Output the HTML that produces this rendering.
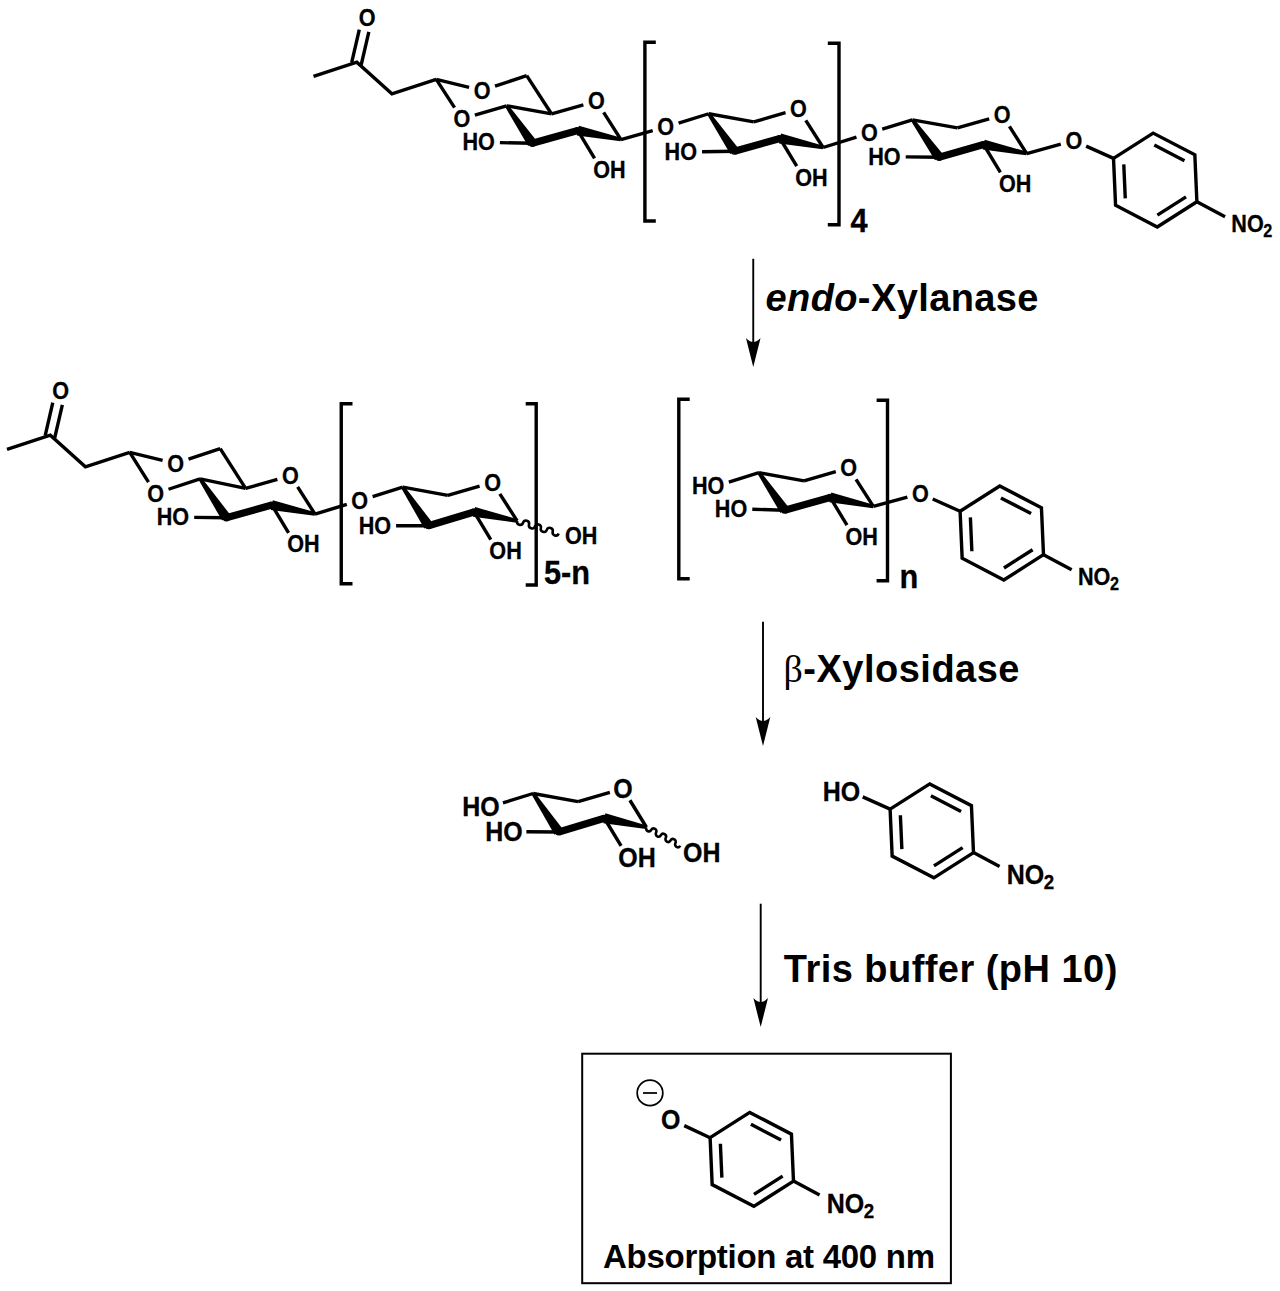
<!DOCTYPE html>
<html><head><meta charset="utf-8"><style>
html,body{margin:0;padding:0;background:#fff;width:1280px;height:1291px;overflow:hidden}
svg{display:block}
text{font-family:"Liberation Sans",sans-serif}
</style></head><body>
<svg width="1280" height="1291" viewBox="0 0 1280 1291" stroke="#000" fill="#000" stroke-linecap="butt" stroke-linejoin="miter" font-family="Liberation Sans, sans-serif" font-weight="bold">
<rect width="1280" height="1291" fill="#fff" stroke="none"/>
<polyline points="313.5,76.3 356.8,62.2 391.9,93.75 436.25,79.4" fill="none" stroke-width="3.4"/>
<line x1="361.08" y1="65.44" x2="368.84" y2="31.76" stroke-width="3.4"/>
<line x1="351.67" y1="62.66" x2="359.29" y2="29.56" stroke-width="3.4"/>
<text transform="translate(367.1,25.55) scale(0.96,1.035)" font-size="22.5" text-anchor="middle" stroke-width="0.3">O</text>
<line x1="436.25" y1="79.4" x2="469.08" y2="87.33" stroke-width="3.4"/>
<line x1="495" y1="86.21" x2="526.7" y2="75.6" stroke-width="3.4"/>
<text transform="translate(482.2,98.56) scale(0.96,1.035)" font-size="22.5" text-anchor="middle" stroke-width="0.3">O</text>
<text transform="translate(461.9,127.06) scale(0.96,1.035)" font-size="22.5" text-anchor="middle" stroke-width="0.3">O</text>
<line x1="506.6" y1="105.8" x2="551.6" y2="113.95" stroke-width="3.4"/>
<line x1="551.6" y1="113.95" x2="583.38" y2="104.79" stroke-width="3.4"/>
<line x1="603.62" y1="112.43" x2="620.95" y2="139.55" stroke-width="3.4"/>
<polygon stroke="none" points="505.11,106.82 528.12,146.12 536.38,140.48 508.09,104.78"/>
<polygon stroke="none" points="533.22,146.77 578.82,134.02 576.88,127.08 531.28,139.83"/>
<polygon stroke="none" points="621.32,137.79 578.87,125.66 576.83,135.44 620.58,141.31"/>
<circle cx="577.85" cy="130.55" r="3.6" stroke="none"/>
<circle cx="532.25" cy="143.3" r="3.6" stroke="none"/>
<line x1="577.85" y1="130.55" x2="594.58" y2="158.29" stroke-width="3.4"/>
<line x1="532.25" y1="143.3" x2="499.9" y2="142.63" stroke-width="3.4"/>
<text transform="translate(596.35,109.1) scale(0.96,1.035)" font-size="22.5" text-anchor="middle" stroke-width="0.3">O</text>
<text transform="translate(593.15,177.91) scale(0.96,1.035)" font-size="22.5" text-anchor="start" stroke-width="0.3">OH</text>
<text transform="translate(494.8,150.41) scale(0.96,1.035)" font-size="22.5" text-anchor="end" stroke-width="0.3">HO</text>
<line x1="526.7" y1="75.6" x2="551.6" y2="113.95" stroke-width="3.4"/>
<line x1="436.25" y1="79.4" x2="454.56" y2="107.67" stroke-width="3.4"/>
<line x1="474.85" y1="115.18" x2="506.6" y2="105.8" stroke-width="3.4"/>
<line x1="708.75" y1="113.75" x2="753.75" y2="121.9" stroke-width="3.4"/>
<line x1="753.75" y1="121.9" x2="785.53" y2="112.74" stroke-width="3.4"/>
<line x1="805.77" y1="120.38" x2="823.1" y2="147.5" stroke-width="3.4"/>
<polygon stroke="none" points="707.26,114.77 730.27,154.07 738.53,148.43 710.24,112.73"/>
<polygon stroke="none" points="735.37,154.72 780.97,141.97 779.03,135.03 733.43,147.78"/>
<polygon stroke="none" points="823.47,145.74 781.02,133.61 778.98,143.39 822.73,149.26"/>
<circle cx="780" cy="138.5" r="3.6" stroke="none"/>
<circle cx="734.4" cy="151.25" r="3.6" stroke="none"/>
<line x1="780" y1="138.5" x2="796.73" y2="166.24" stroke-width="3.4"/>
<line x1="734.4" y1="151.25" x2="702.05" y2="151.74" stroke-width="3.4"/>
<text transform="translate(798.5,117.06) scale(0.96,1.035)" font-size="22.5" text-anchor="middle" stroke-width="0.3">O</text>
<text transform="translate(795.3,185.86) scale(0.96,1.035)" font-size="22.5" text-anchor="start" stroke-width="0.3">OH</text>
<text transform="translate(696.95,160) scale(0.96,1.035)" font-size="22.5" text-anchor="end" stroke-width="0.3">HO</text>
<line x1="620.95" y1="139.55" x2="652.69" y2="130.72" stroke-width="3.4"/>
<line x1="678.59" y1="123.1" x2="708.75" y2="113.75" stroke-width="3.4"/>
<text transform="translate(665.7,135.16) scale(0.96,1.035)" font-size="22.5" text-anchor="middle" stroke-width="0.3">O</text>
<line x1="912.4" y1="119.8" x2="957.4" y2="127.95" stroke-width="3.4"/>
<line x1="957.4" y1="127.95" x2="989.18" y2="118.79" stroke-width="3.4"/>
<line x1="1009.42" y1="126.43" x2="1026.75" y2="153.55" stroke-width="3.4"/>
<polygon stroke="none" points="910.93,120.84 934.97,160.2 943.13,154.4 913.87,118.76"/>
<polygon stroke="none" points="940.04,160.76 984.64,148.01 982.66,141.09 938.06,153.84"/>
<polygon stroke="none" points="1027.12,151.79 984.67,139.66 982.63,149.44 1026.38,155.31"/>
<circle cx="983.65" cy="144.55" r="3.6" stroke="none"/>
<circle cx="939.05" cy="157.3" r="3.6" stroke="none"/>
<line x1="983.65" y1="144.55" x2="1000.38" y2="172.29" stroke-width="3.4"/>
<line x1="939.05" y1="157.3" x2="905.7" y2="156.84" stroke-width="3.4"/>
<text transform="translate(1002.15,123.1) scale(0.96,1.035)" font-size="22.5" text-anchor="middle" stroke-width="0.3">O</text>
<text transform="translate(998.95,191.91) scale(0.96,1.035)" font-size="22.5" text-anchor="start" stroke-width="0.3">OH</text>
<text transform="translate(900.6,164.71) scale(0.96,1.035)" font-size="22.5" text-anchor="end" stroke-width="0.3">HO</text>
<line x1="823.1" y1="147.5" x2="856.46" y2="137.15" stroke-width="3.4"/>
<line x1="882.24" y1="129.15" x2="912.4" y2="119.8" stroke-width="3.4"/>
<text transform="translate(869.35,141.21) scale(0.96,1.035)" font-size="22.5" text-anchor="middle" stroke-width="0.3">O</text>
<polygon points="1113.51,158.37 1153.15,133.11 1194.84,154.82 1196.89,201.77 1157.25,227.03 1115.56,205.32" fill="none" stroke-width="3.4"/>
<line x1="1123.78" y1="164.43" x2="1125.27" y2="198.39" stroke-width="3.4"/>
<line x1="1154.3" y1="144.99" x2="1184.46" y2="160.69" stroke-width="3.4"/>
<line x1="1186.03" y1="196.83" x2="1157.36" y2="215.1" stroke-width="3.4"/>
<line x1="1026.75" y1="153.55" x2="1060.78" y2="144.18" stroke-width="3.4"/>
<line x1="1086.12" y1="146.11" x2="1113.51" y2="158.37" stroke-width="3.4"/>
<text transform="translate(1073.8,148.66) scale(0.96,1.035)" font-size="22.5" text-anchor="middle" stroke-width="0.3">O</text>
<line x1="1196.89" y1="201.77" x2="1225.07" y2="216.78" stroke-width="3.4"/>
<text transform="translate(1231.3,231.98) scale(0.96,1.035)" font-size="22.5" text-anchor="start" stroke-width="0.3">N</text>
<text transform="translate(1246.89,231.98) scale(0.96,1.035)" font-size="22.5" text-anchor="start" stroke-width="0.3">O</text>
<text transform="translate(1263.33,236.98) scale(0.96,1.035)" font-size="16.875" text-anchor="start" stroke-width="0.3">2</text>
<polyline points="655.8,42.2 644.9,42.2 644.9,221 655.8,221" fill="none" stroke-width="3.4"/>
<polyline points="827.8,43.2 839,43.2 839,224.8 827.8,224.8" fill="none" stroke-width="3.4"/>
<text transform="translate(850.4,232.2) scale(0.96,1.035)" font-size="32" text-anchor="start" stroke-width="0.3">4</text>
<line x1="753.25" y1="258.75" x2="753.25" y2="343" stroke-width="1.9"/>
<path stroke="none" d="M753.25,367 L745.95,338 Q753.25,346 760.55,338 Z"/>
<text x="765.5" y="311.3" font-size="38" text-anchor="start" stroke="none" textLength="273" lengthAdjust="spacing"><tspan font-style="italic">endo</tspan>-Xylanase</text>
<polyline points="7,449.3 50.3,435.2 85.4,466.75 129.75,452.4" fill="none" stroke-width="3.4"/>
<line x1="54.58" y1="438.44" x2="62.34" y2="404.76" stroke-width="3.4"/>
<line x1="45.17" y1="435.66" x2="52.79" y2="402.56" stroke-width="3.4"/>
<text transform="translate(60.6,398.56) scale(0.96,1.035)" font-size="22.5" text-anchor="middle" stroke-width="0.3">O</text>
<line x1="129.75" y1="452.4" x2="162.58" y2="460.33" stroke-width="3.4"/>
<line x1="188.5" y1="459.21" x2="220.2" y2="448.6" stroke-width="3.4"/>
<text transform="translate(175.7,471.56) scale(0.96,1.035)" font-size="22.5" text-anchor="middle" stroke-width="0.3">O</text>
<text transform="translate(155.7,501.56) scale(0.96,1.035)" font-size="22.5" text-anchor="middle" stroke-width="0.3">O</text>
<line x1="200.1" y1="478.8" x2="245.6" y2="488.45" stroke-width="3.4"/>
<line x1="245.6" y1="488.45" x2="277.38" y2="479.29" stroke-width="3.4"/>
<line x1="297.62" y1="486.93" x2="314.95" y2="514.05" stroke-width="3.4"/>
<polygon stroke="none" points="198.6,479.8 222.1,520.58 230.4,515.02 201.6,477.8"/>
<polygon stroke="none" points="227.22,521.27 272.82,508.52 270.88,501.58 225.28,514.33"/>
<polygon stroke="none" points="315.32,512.29 272.87,500.16 270.83,509.94 314.58,515.81"/>
<circle cx="271.85" cy="505.05" r="3.6" stroke="none"/>
<circle cx="226.25" cy="517.8" r="3.6" stroke="none"/>
<line x1="271.85" y1="505.05" x2="288.58" y2="532.79" stroke-width="3.4"/>
<line x1="226.25" y1="517.8" x2="194.2" y2="517.38" stroke-width="3.4"/>
<text transform="translate(290.35,483.61) scale(0.96,1.035)" font-size="22.5" text-anchor="middle" stroke-width="0.3">O</text>
<text transform="translate(287.15,552.4) scale(0.96,1.035)" font-size="22.5" text-anchor="start" stroke-width="0.3">OH</text>
<text transform="translate(189.1,525.25) scale(0.96,1.035)" font-size="22.5" text-anchor="end" stroke-width="0.3">HO</text>
<line x1="220.2" y1="448.6" x2="245.6" y2="488.45" stroke-width="3.4"/>
<line x1="129.75" y1="452.4" x2="148.49" y2="482.08" stroke-width="3.4"/>
<line x1="168.52" y1="489.26" x2="200.1" y2="478.8" stroke-width="3.4"/>
<line x1="402.8" y1="487.2" x2="447.8" y2="495.35" stroke-width="3.4"/>
<line x1="447.8" y1="495.35" x2="479.58" y2="486.19" stroke-width="3.4"/>
<line x1="499.82" y1="493.83" x2="517.15" y2="520.95" stroke-width="3.4"/>
<polygon stroke="none" points="401.3,488.2 424.29,528.47 432.61,522.93 404.3,486.2"/>
<polygon stroke="none" points="429.49,529.15 475.09,515.4 473.01,508.5 427.41,522.25"/>
<polygon stroke="none" points="517.52,519.19 475.07,507.06 473.03,516.84 516.78,522.71"/>
<circle cx="474.05" cy="511.95" r="3.6" stroke="none"/>
<circle cx="428.45" cy="525.7" r="3.6" stroke="none"/>
<line x1="474.05" y1="511.95" x2="490.78" y2="539.69" stroke-width="3.4"/>
<line x1="428.45" y1="525.7" x2="396.1" y2="525.81" stroke-width="3.4"/>
<text transform="translate(492.55,490.5) scale(0.96,1.035)" font-size="22.5" text-anchor="middle" stroke-width="0.3">O</text>
<text transform="translate(489.35,559.3) scale(0.96,1.035)" font-size="22.5" text-anchor="start" stroke-width="0.3">OH</text>
<text transform="translate(391,533.9) scale(0.96,1.035)" font-size="22.5" text-anchor="end" stroke-width="0.3">HO</text>
<line x1="314.95" y1="514.05" x2="346.82" y2="504.45" stroke-width="3.4"/>
<line x1="372.64" y1="496.55" x2="402.8" y2="487.2" stroke-width="3.4"/>
<text transform="translate(359.75,508.61) scale(0.96,1.035)" font-size="22.5" text-anchor="middle" stroke-width="0.3">O</text>
<path d="M517.15,520.95 A3.1,3.1 0 0 0 523.08,522.74 A3.1,3.1 0 0 1 529.01,524.52 A3.1,3.1 0 0 0 534.94,526.31 A3.1,3.1 0 0 1 540.86,528.09 A3.1,3.1 0 0 0 546.79,529.88 A3.1,3.1 0 0 1 552.72,531.66 A3.1,3.1 0 0 0 558.65,533.45" fill="none" stroke-width="2.6"/>
<text transform="translate(565,543.75) scale(0.96,1.035)" font-size="22.5" text-anchor="start" stroke-width="0.3">OH</text>
<polyline points="352.5,403.75 341.25,403.75 341.25,583.75 352.5,583.75" fill="none" stroke-width="3.4"/>
<polyline points="525.7,403.75 536.2,403.75 536.2,585 525.7,585" fill="none" stroke-width="3.4"/>
<text transform="translate(544,584.4) scale(0.96,1.035)" font-size="32" text-anchor="start" stroke-width="0.3">5-n</text>
<line x1="759" y1="472.7" x2="804" y2="480.85" stroke-width="3.4"/>
<line x1="804" y1="480.85" x2="835.78" y2="471.69" stroke-width="3.4"/>
<line x1="856.02" y1="479.33" x2="873.35" y2="506.45" stroke-width="3.4"/>
<polygon stroke="none" points="757.51,473.72 780.52,513.02 788.78,507.38 760.49,471.68"/>
<polygon stroke="none" points="785.62,513.67 831.22,500.92 829.28,493.98 783.68,506.73"/>
<polygon stroke="none" points="873.72,504.69 831.27,492.56 829.23,502.34 872.98,508.21"/>
<circle cx="830.25" cy="497.45" r="3.6" stroke="none"/>
<circle cx="784.65" cy="510.2" r="3.6" stroke="none"/>
<line x1="830.25" y1="497.45" x2="846.98" y2="525.19" stroke-width="3.4"/>
<line x1="784.65" y1="510.2" x2="752.29" y2="509.25" stroke-width="3.4"/>
<text transform="translate(848.75,476) scale(0.96,1.035)" font-size="22.5" text-anchor="middle" stroke-width="0.3">O</text>
<text transform="translate(845.55,544.8) scale(0.96,1.035)" font-size="22.5" text-anchor="start" stroke-width="0.3">OH</text>
<text transform="translate(747.2,516.9) scale(0.96,1.035)" font-size="22.5" text-anchor="end" stroke-width="0.3">HO</text>
<line x1="728.84" y1="482.05" x2="759" y2="472.7" stroke-width="3.4"/>
<text transform="translate(724.35,494.11) scale(0.96,1.035)" font-size="22.5" text-anchor="end" stroke-width="0.3">HO</text>
<polygon points="960.11,511.27 999.75,486.01 1041.44,507.72 1043.49,554.67 1003.85,579.93 962.16,558.22" fill="none" stroke-width="3.4"/>
<line x1="970.38" y1="517.33" x2="971.87" y2="551.29" stroke-width="3.4"/>
<line x1="1000.9" y1="497.89" x2="1031.06" y2="513.59" stroke-width="3.4"/>
<line x1="1032.63" y1="549.73" x2="1003.96" y2="568" stroke-width="3.4"/>
<line x1="873.35" y1="506.45" x2="907.38" y2="497.08" stroke-width="3.4"/>
<line x1="932.72" y1="499.01" x2="960.11" y2="511.27" stroke-width="3.4"/>
<text transform="translate(920.4,501.56) scale(0.96,1.035)" font-size="22.5" text-anchor="middle" stroke-width="0.3">O</text>
<line x1="1043.49" y1="554.67" x2="1071.67" y2="569.68" stroke-width="3.4"/>
<text transform="translate(1077.9,584.88) scale(0.96,1.035)" font-size="22.5" text-anchor="start" stroke-width="0.3">N</text>
<text transform="translate(1093.49,584.88) scale(0.96,1.035)" font-size="22.5" text-anchor="start" stroke-width="0.3">O</text>
<text transform="translate(1109.93,589.88) scale(0.96,1.035)" font-size="16.875" text-anchor="start" stroke-width="0.3">2</text>
<polyline points="689.7,399.2 678.8,399.2 678.8,578.8 689.7,578.8" fill="none" stroke-width="3.4"/>
<polyline points="876.6,400.3 887.5,400.3 887.5,580.8 876.6,580.8" fill="none" stroke-width="3.4"/>
<text transform="translate(899.6,588.4) scale(0.96,1.035)" font-size="32" text-anchor="start" stroke-width="0.3">n</text>
<line x1="763" y1="621.7" x2="763" y2="721.9" stroke-width="1.9"/>
<path stroke="none" d="M763,745.9 L755.7,716.9 Q763,724.9 770.3,716.9 Z"/>
<text x="783.5" y="681.7" font-size="38" text-anchor="start" stroke="none" textLength="236" lengthAdjust="spacing"><tspan font-weight="normal" font-family="Liberation Serif, serif">β</tspan>-Xylosidase</text>
<line x1="533.1" y1="793.5" x2="578.1" y2="801.65" stroke-width="3.4"/>
<line x1="578.1" y1="801.65" x2="609.88" y2="792.49" stroke-width="3.4"/>
<line x1="629.91" y1="800.26" x2="646.45" y2="827.25" stroke-width="3.4"/>
<polygon stroke="none" points="531.6,794.5 554.59,834.77 562.91,829.23 534.6,792.5"/>
<polygon stroke="none" points="559.79,835.45 605.39,821.7 603.31,814.8 557.71,828.55"/>
<polygon stroke="none" points="646.83,825.49 605.4,813.36 603.3,823.14 646.07,829.01"/>
<circle cx="604.35" cy="818.25" r="3.6" stroke="none"/>
<circle cx="558.75" cy="832" r="3.6" stroke="none"/>
<line x1="604.35" y1="818.25" x2="621.08" y2="845.99" stroke-width="3.4"/>
<line x1="558.75" y1="832" x2="526.4" y2="831.79" stroke-width="3.4"/>
<text transform="translate(622.85,798.06) scale(0.96,1.035)" font-size="26" text-anchor="middle" stroke-width="0.3">O</text>
<text transform="translate(618.34,866.86) scale(0.96,1.035)" font-size="26" text-anchor="start" stroke-width="0.3">OH</text>
<text transform="translate(522.61,841.01) scale(0.96,1.035)" font-size="26" text-anchor="end" stroke-width="0.3">HO</text>
<line x1="502.94" y1="802.85" x2="533.1" y2="793.5" stroke-width="3.4"/>
<text transform="translate(499.76,816.16) scale(0.96,1.035)" font-size="26" text-anchor="end" stroke-width="0.3">HO</text>
<path d="M646.45,827.25 A2.75,2.75 0 0 0 651.28,829.89 A2.75,2.75 0 0 1 656.11,832.54 A2.75,2.75 0 0 0 660.94,835.18 A2.75,2.75 0 0 1 665.76,837.82 A2.75,2.75 0 0 0 670.59,840.46 A2.75,2.75 0 0 1 675.42,843.11 A2.75,2.75 0 0 0 680.25,845.75" fill="none" stroke-width="2.6"/>
<text transform="translate(683,861.7) scale(0.96,1.035)" font-size="26" text-anchor="start" stroke-width="0.3">OH</text>
<polygon points="890.11,809.17 929.75,783.91 971.44,805.62 973.49,852.57 933.85,877.83 892.16,856.12" fill="none" stroke-width="3.4"/>
<line x1="900.38" y1="815.23" x2="901.87" y2="849.19" stroke-width="3.4"/>
<line x1="930.9" y1="795.79" x2="961.06" y2="811.49" stroke-width="3.4"/>
<line x1="962.63" y1="847.63" x2="933.96" y2="865.9" stroke-width="3.4"/>
<line x1="862.72" y1="796.91" x2="890.11" y2="809.17" stroke-width="3.4"/>
<text transform="translate(860.11,800.71) scale(0.96,1.035)" font-size="26" text-anchor="end" stroke-width="0.3">HO</text>
<line x1="973.49" y1="852.57" x2="999.59" y2="866.47" stroke-width="3.4"/>
<text transform="translate(1006.78,884.03) scale(0.96,1.035)" font-size="26" text-anchor="start" stroke-width="0.3">N</text>
<text transform="translate(1024.8,884.03) scale(0.96,1.035)" font-size="26" text-anchor="start" stroke-width="0.3">O</text>
<text transform="translate(1043.79,889.03) scale(0.96,1.035)" font-size="19.5" text-anchor="start" stroke-width="0.3">2</text>
<line x1="760.7" y1="903.7" x2="760.7" y2="1003.1" stroke-width="1.9"/>
<path stroke="none" d="M760.7,1027.1 L753.4,998.1 Q760.7,1006.1 768,998.1 Z"/>
<text x="783.8" y="981.8" font-size="38" text-anchor="start" stroke="none" textLength="333.5" lengthAdjust="spacing">Tris buffer (pH 10)</text>
<rect x="582.2" y="1053.7" width="368.7" height="229.5" fill="none" stroke-width="2"/>
<polygon points="710.11,1137.67 749.75,1112.41 791.44,1134.12 793.49,1181.07 753.85,1206.33 712.16,1184.62" fill="none" stroke-width="3.4"/>
<line x1="720.38" y1="1143.73" x2="721.87" y2="1177.69" stroke-width="3.4"/>
<line x1="750.9" y1="1124.29" x2="781.06" y2="1139.99" stroke-width="3.4"/>
<line x1="782.63" y1="1176.13" x2="753.96" y2="1194.4" stroke-width="3.4"/>
<line x1="684.25" y1="1125.59" x2="710.11" y2="1137.67" stroke-width="3.4"/>
<text transform="translate(670.8,1128.61) scale(0.96,1.035)" font-size="26" text-anchor="middle" stroke-width="0.3">O</text>
<circle cx="650" cy="1092.9" r="12.8" fill="none" stroke-width="1.75"/>
<line x1="643" y1="1093" x2="657" y2="1093" stroke-width="1.75"/>
<line x1="793.49" y1="1181.07" x2="819.59" y2="1194.97" stroke-width="3.4"/>
<text transform="translate(826.78,1212.53) scale(0.96,1.035)" font-size="26" text-anchor="start" stroke-width="0.3">N</text>
<text transform="translate(844.8,1212.53) scale(0.96,1.035)" font-size="26" text-anchor="start" stroke-width="0.3">O</text>
<text transform="translate(863.79,1217.53) scale(0.96,1.035)" font-size="19.5" text-anchor="start" stroke-width="0.3">2</text>
<text x="603" y="1268" font-size="33" text-anchor="start" stroke="none" textLength="332" lengthAdjust="spacing">Absorption at 400 nm</text>
</svg>
</body></html>
